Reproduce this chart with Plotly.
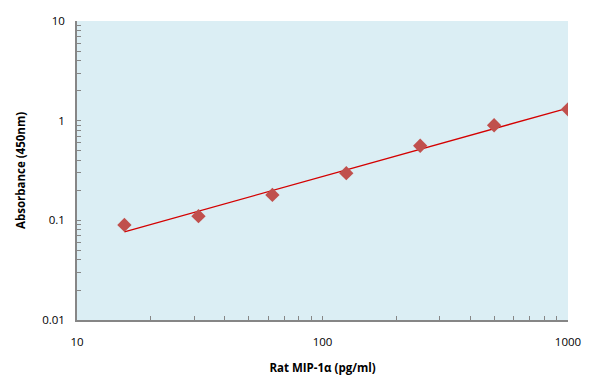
import numpy as np
import plotly.graph_objects as go

# Data
concentration = [15.6, 31.25, 62.5, 125, 250, 500, 1000]
absorbance = [0.090, 0.110, 0.180, 0.297, 0.560, 0.900, 1.300]

x_tick_vals = [10, 100, 1000]
x_tick_text = ["10", "100", "1000"]
y_tick_vals = [0.01, 0.1, 1, 10]
y_tick_text = ["0.01", "0.1", "1", "10"]

# Power trendline fitted from data
lx = np.log10(concentration)
ly = np.log10(absorbance)
slope, intercept = np.polyfit(lx, ly, 1)
fit_x = np.array([concentration[0], concentration[-1]])
fit_y = 10 ** (intercept + slope * np.log10(fit_x))

def minor_ticks(lo_exp, hi_exp):
    vals = []
    for e in range(lo_exp, hi_exp):
        for m in range(1, 10):
            vals.append(m * 10 ** e)
    vals.append(10 ** hi_exp)
    return vals

xv = minor_ticks(1, 3)
yv = minor_ticks(-2, 1)
def labels(vals, majors, texts):
    out = []
    for v in vals:
        lab = ""
        for mv, t in zip(majors, texts):
            if abs(v - mv) / mv < 1e-9:
                lab = t
        out.append(lab)
    return out

fig = go.Figure()
fig.add_trace(go.Scatter(
    x=fit_x, y=fit_y, mode="lines",
    line=dict(color="#D40000", width=1.3),
    hoverinfo="skip", showlegend=False))
fig.add_trace(go.Scatter(
    x=concentration, y=absorbance, mode="markers",
    marker=dict(symbol="diamond", size=11, color="#C0504D",
                line=dict(width=0)),
    showlegend=False))

axis_font = dict(family="Open Sans, Liberation Sans, sans-serif", size=11.5, color="black")
# page body has an 8px default margin, compensate so the plot area lands at 77..568 x 21..320
fig.update_layout(
    width=588, height=382,
    margin=dict(l=69, r=28, t=13, b=70),
    paper_bgcolor="white",
    plot_bgcolor="#DBEEF4",
    font=axis_font,
    xaxis=dict(
        type="log", range=[1, 3], automargin=False,
        tickvals=xv, ticktext=labels(xv, x_tick_vals, x_tick_text),
        ticks="inside", ticklen=4, tickcolor="#868686", tickwidth=1,
        showline=True, linecolor="#868686", linewidth=1.5,
        showgrid=False, zeroline=False,
        ticklabelstandoff=10,
        title=dict(text="<b>Rat MIP-1α (pg/ml)</b>", font=dict(size=11.5), standoff=16),
    ),
    yaxis=dict(
        type="log", range=[-2, 1], automargin=False,
        tickvals=yv, ticktext=labels(yv, y_tick_vals, y_tick_text),
        ticks="inside", ticklen=4, tickcolor="#868686", tickwidth=1,
        showline=True, linecolor="#868686", linewidth=1.5,
        showgrid=False, zeroline=False,
        ticklabelstandoff=8,
        title=dict(text="<b>Absorbance (450nm)</b>", font=dict(size=11.5), standoff=14),
    ),
)

fig.write_html("out.html")
